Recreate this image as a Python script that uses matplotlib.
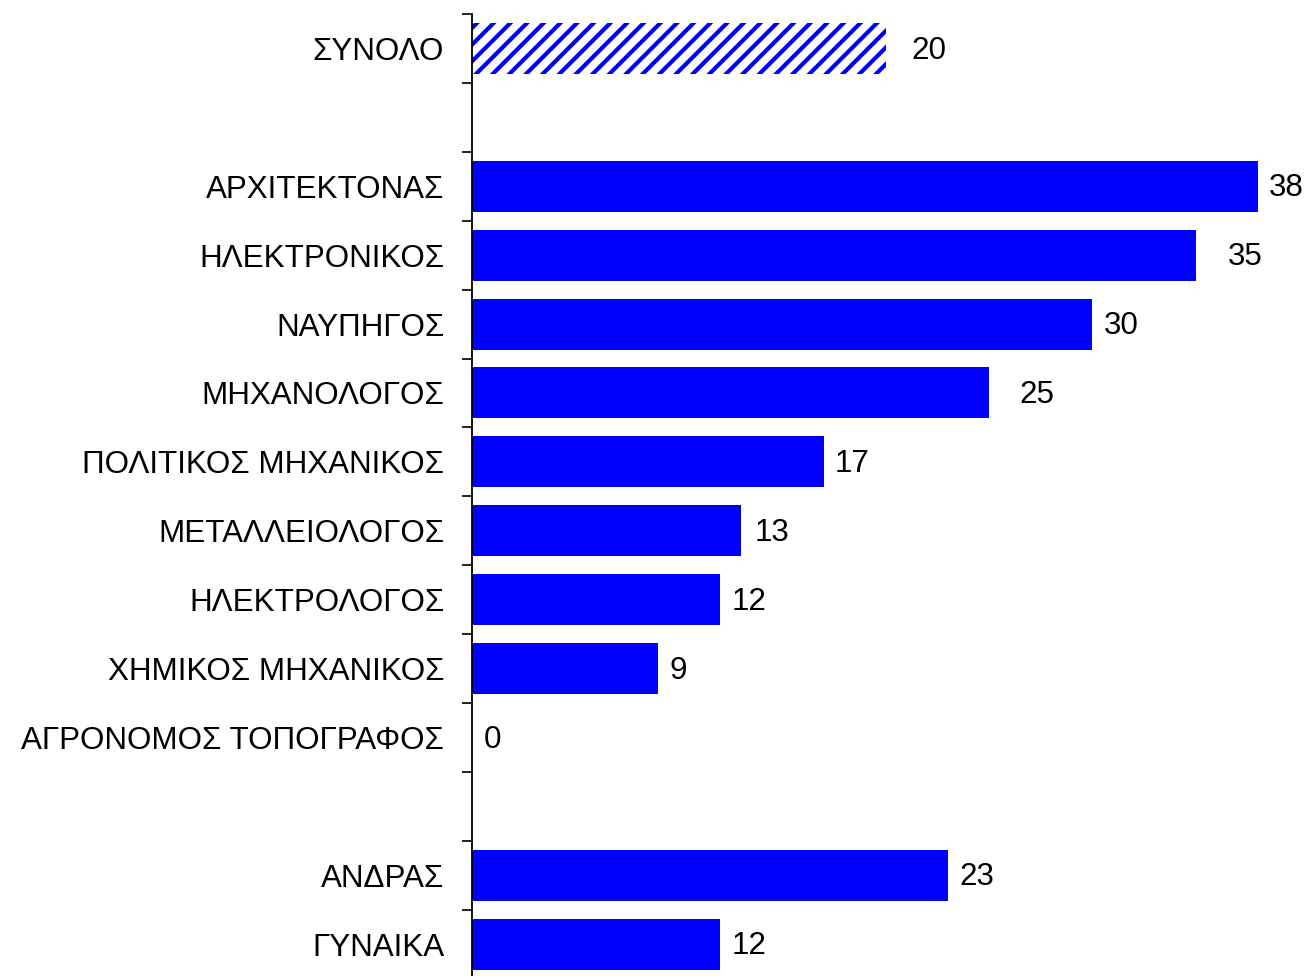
import numpy as np
import matplotlib.pyplot as plt

plt.rcParams['font.family'] = ['Liberation Sans', 'DejaVu Sans']
plt.rcParams['hatch.linewidth'] = 3.0

# rows from top to bottom, None = empty gap row
categories = ['ΣΥΝΟΛΟ', None,
              'ΑΡΧΙΤΕΚΤΟΝΑΣ', 'ΗΛΕΚΤΡΟΝΙΚΟΣ', 'ΝΑΥΠΗΓΟΣ', 'ΜΗΧΑΝΟΛΟΓΟΣ',
              'ΠΟΛΙΤΙΚΟΣ ΜΗΧΑΝΙΚΟΣ', 'ΜΕΤΑΛΛΕΙΟΛΟΓΟΣ', 'ΗΛΕΚΤΡΟΛΟΓΟΣ',
              'ΧΗΜΙΚΟΣ ΜΗΧΑΝΙΚΟΣ', 'ΑΓΡΟΝΟΜΟΣ ΤΟΠΟΓΡΑΦΟΣ', None,
              'ΑΝΔΡΑΣ', 'ΓΥΝΑΙΚΑ']
values = [20, None, 38, 35, 30, 25, 17, 13, 12, 9, 0, None, 23, 12]

# extra horizontal nudge of the value labels (in data units), as in the original
label_nudge = [0.7, 0, 0, 1.0, 0, 0.9, 0, 0.1, 0, 0, 0, 0, 0, 0]

W, H = 1309, 976
fig = plt.figure(figsize=(W / 100, H / 100), dpi=100)
n = len(categories)
slot = 68.9
top_px = 14
ax = fig.add_axes([472 / W, (H - top_px - n * slot) / H, (W - 472) / W, n * slot / H])

fs = 22.6
rows = [i for i, c in enumerate(categories) if c is not None]
for i in rows:
    v = values[i]
    if i == 0:
        ax.barh(i, v, height=0.74, color='white', edgecolor='blue', linewidth=0, hatch='//')
    else:
        ax.barh(i, v, height=0.74, color='blue', linewidth=0)
    ax.text(v + 0.55 + label_nudge[i], i + 0.03, str(v), va='center', ha='left', fontsize=fs)

ax.set_ylim(n - 0.5, -0.5)
ax.set_xlim(0, (W - 472) / 20.68)

ax.set_yticks(rows)
ax.set_yticklabels([categories[i] for i in rows], fontsize=fs)
ax.set_yticks(np.arange(-0.5, n, 1), minor=True)
ax.tick_params(axis='y', which='major', length=0, pad=20)
ax.tick_params(axis='y', which='minor', length=7, width=1.2, direction='out')
ax.set_xticks([])

for s in ['top', 'right', 'bottom']:
    ax.spines[s].set_visible(False)
ax.spines['left'].set_linewidth(1.3)

fig.savefig('out.png', dpi=100)
